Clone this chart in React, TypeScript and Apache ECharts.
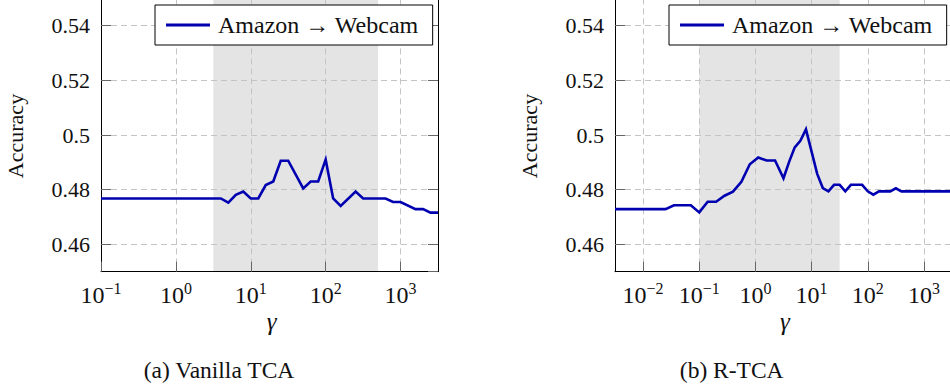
import React, { useEffect, useRef } from 'react';
import * as echarts from 'echarts';

const FONT = 'Liberation Serif';
const SERIES_NAME = 'Amazon → Webcam';
const LINE_COLOR = '#0000b0';

// (a) Vanilla TCA: log10(γ) and accuracy
const vanillaLogGamma = [-1, 0.6, 0.7, 0.8, 0.9, 1.0, 1.1, 1.2, 1.3, 1.4, 1.5, 1.7, 1.8, 1.9, 2.0, 2.1, 2.2, 2.4, 2.5, 2.8, 2.9, 3.0, 3.2, 3.3, 3.4, 3.5];
const vanillaAccuracy = [0.4768, 0.4768, 0.4753, 0.4781, 0.4793, 0.4768, 0.4768, 0.4817, 0.483, 0.4906, 0.4906, 0.4805, 0.483, 0.483, 0.491, 0.4768, 0.4741, 0.4793, 0.4768, 0.4768, 0.4755, 0.4755, 0.4729, 0.4729, 0.4716, 0.4716];

// (b) R-TCA: log10(γ) and accuracy
const rtcaLogGamma = [-2.5, -1.6, -1.45, -1.15, -1.0, -0.85, -0.7, -0.55, -0.4, -0.25, -0.1, 0.05, 0.2, 0.35, 0.5, 0.6, 0.7, 0.8, 0.9, 1.1, 1.2, 1.3, 1.4, 1.5, 1.6, 1.7, 1.9, 2.0, 2.1, 2.2, 2.4, 2.5, 2.6, 3.5];
const rtcaAccuracy = [0.4729, 0.4729, 0.4743, 0.4743, 0.4717, 0.4756, 0.4756, 0.4778, 0.4793, 0.4829, 0.4893, 0.4918, 0.4907, 0.4907, 0.4842, 0.4902, 0.4955, 0.4979, 0.5021, 0.4858, 0.4806, 0.4794, 0.4818, 0.4818, 0.4794, 0.4818, 0.4818, 0.4794, 0.4782, 0.4794, 0.4794, 0.4805, 0.4794, 0.4794];

// axis ranges (log10 γ) and shaded bands (log10 γ)
const vanillaRange = [-1, 3.5];
const rtcaRange = [-2.5, 3.5];
const vanillaBand = [0.5, 2.7];
const rtcaBand = [-1, 1.5];
const accuracyRange = [0.45, 0.55];

const captions = ['(a) Vanilla TCA', '(b) R-TCA'];
const yName = 'Accuracy';
const xName = 'γ';

const pow10 = (e: number) => Math.pow(10, e);

const xLabelFormatter = (v: number) => {
  const e = Math.round(Math.log10(v));
  const s = e < 0 ? '\u2212' + -e : String(e);
  return `{b|10}{s|${s}}`;
};

const TOP = -1.6;
const HEIGHT = 273.3;
const WIDTH = 337;
const LEFTS = [101, 615];

function makeX(i: number, range: number[]) {
  return {
    type: 'log',
    logBase: 10,
    gridIndex: i,
    min: pow10(range[0]),
    max: pow10(range[1]),
    z: 2,
    axisLine: { show: true, onZero: false, lineStyle: { color: '#000', width: 1 } },
    axisTick: { show: true, inside: true, length: 10, lineStyle: { color: '#666', width: 1 } },
    minorTick: { show: false },
    minorSplitLine: { show: false },
    axisLabel: {
      show: true,
      margin: 9,
      showMinLabel: i === 0,
      showMaxLabel: false,
      formatter: xLabelFormatter,
      color: '#111',
      fontFamily: FONT,
      rich: {
        b: { fontFamily: FONT, fontSize: 24, lineHeight: 28, color: '#111' },
        s: { fontFamily: FONT, fontSize: 16, lineHeight: 17, verticalAlign: 'top', color: '#111' },
      },
    },
    splitLine: {
      show: true,
      showMinLine: false,
      showMaxLine: false,
      lineStyle: { color: '#c4c4c4', width: 1, type: [6, 4] },
    },
  };
}

function makeY(i: number) {
  return {
    type: 'value',
    gridIndex: i,
    position: 'left',
    min: accuracyRange[0],
    max: accuracyRange[1],
    z: 2,
    axisLine: { show: true, onZero: false, lineStyle: { color: '#000', width: 1 } },
    axisTick: { show: true, inside: true, length: 10, lineStyle: { color: '#666', width: 1 } },
    axisLabel: {
      show: true,
      margin: 11,
      showMinLabel: false,
      showMaxLabel: false,
      fontFamily: FONT,
      fontSize: 22,
      color: '#111',
    },
    splitLine: {
      show: true,
      showMinLine: false,
      showMaxLine: false,
      lineStyle: { color: '#c4c4c4', width: 1, type: [6, 4] },
    },
  };
}

function makeSeries(i: number, xs: number[], ys: number[], band: number[]) {
  return {
    type: 'line',
    name: SERIES_NAME,
    xAxisIndex: i,
    yAxisIndex: i,
    z: 3,
    symbol: 'none',
    showSymbol: false,
    color: LINE_COLOR,
    itemStyle: { color: LINE_COLOR },
    lineStyle: { color: LINE_COLOR, width: 2.6, join: 'miter' },
    data: xs.map((e, k) => [pow10(e), ys[k]]),
    markArea: {
      silent: true,
      z: 1,
      itemStyle: { color: '#e4e4e4', borderWidth: 0 },
      label: { show: false },
      data: [[{ xAxis: pow10(band[0]) }, { xAxis: pow10(band[1]) }]],
    },
  };
}

function makeLegend(left: number) {
  return {
    data: [SERIES_NAME],
    left,
    top: 5,
    orient: 'horizontal',
    icon: 'rect',
    itemWidth: 44,
    itemHeight: 3,
    padding: [6, 14, 6, 11],
    backgroundColor: '#fff',
    borderColor: '#000',
    borderWidth: 1,
    borderRadius: 0,
    selectedMode: false,
    textStyle: { fontFamily: FONT, fontSize: 24, color: '#111', lineHeight: 28, padding: [0, 0, 0, 3] },
  };
}

function textEl(text: string, x: number, y: number, size: number, opts: any = {}) {
  return {
    type: 'text',
    x,
    y,
    rotation: opts.rotation || 0,
    z: 10,
    style: {
      text,
      fill: '#111',
      font: `${opts.italic ? 'italic ' : ''}${size}px ${FONT}`,
      textAlign: 'center',
      textVerticalAlign: 'middle',
    },
  };
}

export default function App() {
  const ref = useRef<HTMLDivElement>(null);

  useEffect(() => {
    document.body.style.margin = '0';
    if (!ref.current) return;
    const chart = echarts.init(ref.current, null, { renderer: 'svg' });
    const option: any = {
      animation: false,
      backgroundColor: '#fff',
      textStyle: { fontFamily: FONT },
      grid: LEFTS.map((l) => ({
        left: l,
        top: TOP,
        width: WIDTH,
        height: HEIGHT,
        containLabel: false,
        outerBoundsMode: 'none',
        show: false,
      })),
      xAxis: [makeX(0, vanillaRange), makeX(1, rtcaRange)],
      yAxis: [
        makeY(0),
        makeY(1),
        {
          type: 'value',
          gridIndex: 0,
          position: 'right',
          min: accuracyRange[0],
          max: accuracyRange[1],
          z: 2,
          axisLine: { show: true, onZero: false, lineStyle: { color: '#000', width: 1 } },
          axisTick: { show: true, inside: true, length: 10, lineStyle: { color: '#666', width: 1 } },
          axisLabel: { show: false },
          splitLine: { show: false },
        },
      ],
      legend: [makeLegend(155), makeLegend(669)],
      series: [
        makeSeries(0, vanillaLogGamma, vanillaAccuracy, vanillaBand),
        makeSeries(1, rtcaLogGamma, rtcaAccuracy, rtcaBand),
      ],
      graphic: [
        textEl(yName, 15.4, 136, 22, { rotation: Math.PI / 2 }),
        textEl(yName, 529.9, 136, 22, { rotation: Math.PI / 2 }),
        textEl(xName, 271.7, 321.6, 25, { italic: true }),
        textEl(xName, 785, 321.6, 25, { italic: true }),
        textEl(captions[0], 219, 369.7, 23.5),
        textEl(captions[1], 731.7, 369.7, 23.5),
      ],
    };
    chart.setOption(option);
    return () => {
      chart.dispose();
    };
  }, []);

  return <div ref={ref} style={{ width: 950, height: 389 }} />;
}
